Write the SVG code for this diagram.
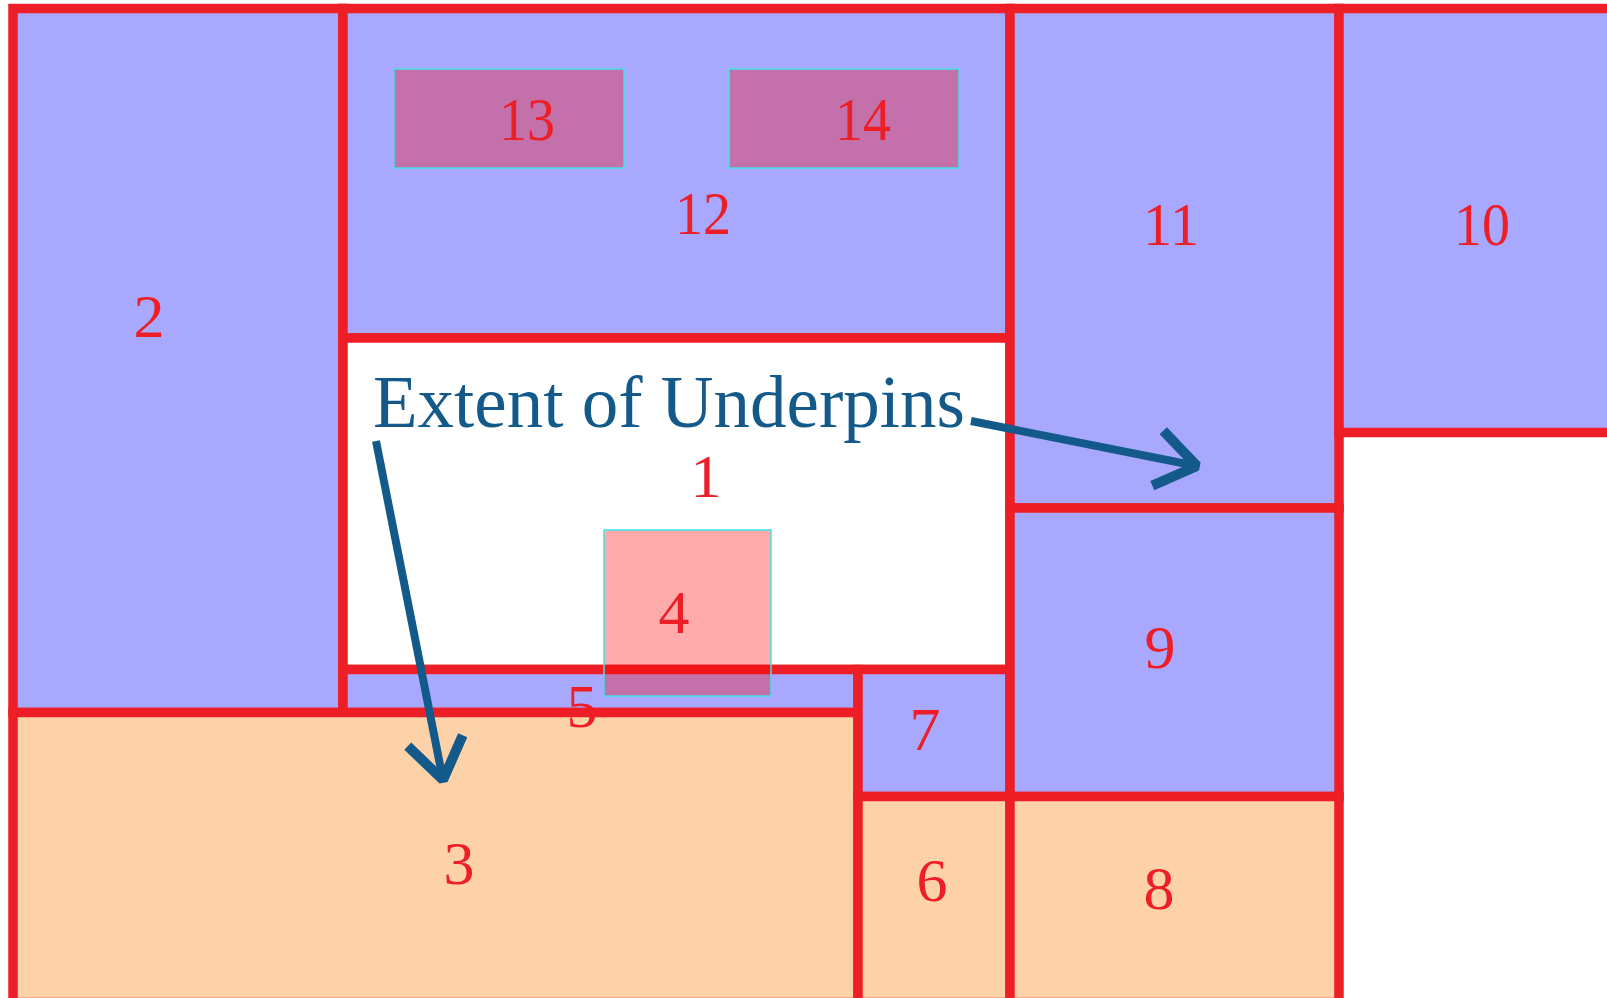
<svg xmlns="http://www.w3.org/2000/svg" width="1607" height="998" viewBox="0 0 1607 998">
<defs>
<style>
.r{stroke:#EE1E26;stroke-width:9.5}
.p{fill:#A8A8FF}
.o{fill:#FDD2A9}
.w{fill:#FFFFFF}
.ov{fill:#FF0000;fill-opacity:0.33;stroke:#3FE3E3;stroke-width:1.5}
.t{font-family:"Liberation Serif","Times New Roman",serif;font-size:62px;fill:#EE1E26;text-anchor:middle}
.a{fill:none;stroke:#135A8A;stroke-width:8}
</style>
<marker id="vh" markerUnits="userSpaceOnUse" viewBox="-50 -35 60 70" refX="0" refY="0" markerWidth="60" markerHeight="70" orient="auto">
<path d="M-40,-28 L0,0 L-40,28" fill="none" stroke="#135A8A" stroke-width="10" stroke-linejoin="bevel"/>
</marker>
</defs>
<rect width="1607" height="998" fill="#FFFFFF"/>
<g id="n2"><rect class="p r" x="13" y="8.5" width="330" height="704"/><text class="t" x="149" y="337">2</text></g>
<g id="n12"><rect class="p r" x="343" y="8.5" width="667" height="329.5"/><text class="t" x="703" y="234" textLength="56" lengthAdjust="spacingAndGlyphs">12</text></g>
<g id="n1"><rect class="w r" x="343" y="338" width="667" height="331.5"/><text class="t" x="706" y="497">1</text></g>
<g id="n5"><rect class="p r" x="343" y="669.5" width="515" height="43"/></g>
<g id="n3"><rect class="o r" x="13" y="712.5" width="845" height="290"/><text class="t" x="459" y="884">3</text></g>
<g id="n7"><rect class="p r" x="858" y="669.5" width="152" height="127"/><text class="t" x="925" y="750">7</text></g>
<g id="n6"><rect class="o r" x="858" y="796.5" width="152" height="206"/><text class="t" x="932" y="901">6</text></g>
<g id="n11"><rect class="p r" x="1010" y="8.5" width="329" height="499.5"/><text class="t" x="1171" y="245" textLength="56" lengthAdjust="spacingAndGlyphs">11</text></g>
<g id="n9"><rect class="p r" x="1010" y="508" width="329" height="288.5"/><text class="t" x="1160" y="668">9</text></g>
<g id="n8"><rect class="o r" x="1010" y="796.5" width="329" height="206"/><text class="t" x="1159" y="909">8</text></g>
<g id="n10"><rect class="p r" x="1339" y="8.5" width="290" height="424"/><text class="t" x="1482" y="245" textLength="56" lengthAdjust="spacingAndGlyphs">10</text></g>
<g id="n13"><rect class="ov" x="394" y="69" width="230" height="99"/><text class="t" x="527" y="140" textLength="56" lengthAdjust="spacingAndGlyphs">13</text></g>
<g id="n14"><rect class="ov" x="729" y="69" width="230" height="99"/><text class="t" x="863" y="140" textLength="56" lengthAdjust="spacingAndGlyphs">14</text></g>
<g id="n4"><rect class="ov" x="604" y="530" width="167" height="166"/><text class="t" x="674" y="633">4</text></g>
<g id="n5label"><text class="t" x="582" y="727">5</text></g>
<g id="label"><text x="373" y="427" font-family="'Liberation Serif','Times New Roman',serif" font-size="73" fill="#135A8A">Extent of Underpins</text></g>
<g id="connectors">
<line class="a" x1="376" y1="441" x2="443" y2="780" marker-end="url(#vh)"/>
<line class="a" x1="971" y1="421" x2="1197" y2="466" marker-end="url(#vh)"/>
</g>
</svg>
